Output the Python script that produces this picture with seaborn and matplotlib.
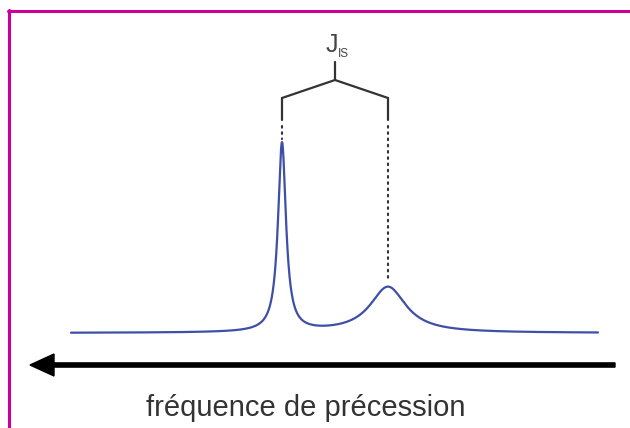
import numpy as np
import pandas as pd
import matplotlib
matplotlib.use("Agg")
import matplotlib.pyplot as plt
from matplotlib.lines import Line2D
import seaborn as sns

# ---- data (arbitrary frequency / intensity units) ----
peak_centers = [282, 388]      # frequency positions of the two lines
peak_heights = [189, 46]       # peak intensities above baseline
peak_hwhm = [4.8, 22]          # half widths at half maximum
freq_range = [71, 598]         # spectrum span
axis_label = "fréquence de précession"
coupling_label = "J"
coupling_sub = "IS"

# ---- build spectrum table from the Lorentzian line parameters ----
freq = np.linspace(freq_range[0], freq_range[1], 3000)
inten = np.zeros_like(freq)
for c, h, g in zip(peak_centers, peak_heights, peak_hwhm):
    inten += h * g**2 / ((freq - c) ** 2 + g**2)
df = pd.DataFrame({"freq": freq, "intensity": inten})

sns.set_theme(style="white")
plt.rcParams["font.family"] = ["Liberation Sans", "DejaVu Sans"]

fig = plt.figure(figsize=(6.30, 4.28), dpi=100)
ax = fig.add_axes([0, 0, 1, 1])
ax.set_xlim(0, 630)
ax.set_ylim(-95, 333)
ax.axis("off")

sns.lineplot(data=df, x="freq", y="intensity", ax=ax, color="#3d4fa6",
             linewidth=1.6, estimator=None, sort=False)

# bracket (layout levels in intensity units)
leg_bottom, leg_top, apex, stem_top = 213, 235, 253, 271
x1, x2 = peak_centers
xm = (x1 + x2) / 2
bcol = "#333333"
ax.plot([x1, x1, xm, x2, x2], [leg_bottom, leg_top, apex, leg_top, leg_bottom],
        color=bcol, lw=1.6, solid_joinstyle="miter")
ax.plot([xm, xm], [apex, stem_top], color=bcol, lw=1.6)

# dotted guide lines from bracket down to each peak
for c, h in zip(peak_centers, peak_heights):
    ax.plot([c, c], [leg_bottom - 6, h + 5], color=bcol, lw=1.5,
            linestyle=(0, (0.8, 2.2)), dash_capstyle="round")

# coupling label
ax.text(xm + 3, 281, coupling_label, ha="right", va="baseline",
        fontsize=18, color="#444444")
ax.text(xm + 3, 276, coupling_sub, ha="left", va="baseline",
        fontsize=8.5, color="#444444")

# frequency arrow
ax.arrow(615, -32, 30 - 615, 0, width=4.2, head_width=22, head_length=24,
         length_includes_head=True, color="black", zorder=3)

ax.text(306, -75, axis_label, ha="center", va="center", fontsize=21,
        color="#333333")

# magenta frame (top and left)
mag = "#cc0099"
fig.add_artist(Line2D([7.5 / 630, 1], [1 - 11 / 428, 1 - 11 / 428],
                      transform=fig.transFigure, color=mag, lw=2.2))
fig.add_artist(Line2D([8.6 / 630, 8.6 / 630], [0, 1 - 10 / 428],
                      transform=fig.transFigure, color=mag, lw=2.2))

fig.savefig("out.png", dpi=100)
